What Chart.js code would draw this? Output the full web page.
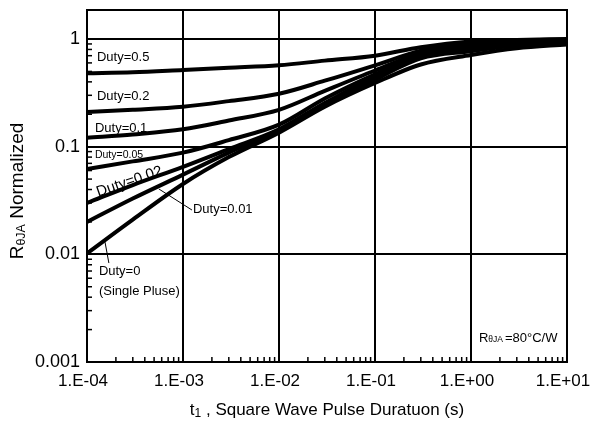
<!DOCTYPE html>
<html>
<head>
<meta charset="utf-8">
<script src="https://cdn.jsdelivr.net/npm/chart.js@4"></script>
<style>
html,body{margin:0;padding:0;background:#fff;}
#wrap{width:590px;height:423px;position:relative;}
</style>
</head>
<body>
<div id="wrap"><canvas id="c" width="590" height="423"></canvas></div>
<script>
// Pulse duration (s)
const pulseTimes = [1e-4, 3e-4, 1e-3, 3e-3, 1e-2, 3e-2, 1e-1, 3e-1, 1, 3, 10];
// Normalized thermal impedance for each duty cycle
const duty050 = [0.48, 0.49, 0.515, 0.54, 0.57, 0.63, 0.70, 0.84, 0.95, 0.98, 1.00];
const duty020 = [0.21, 0.22, 0.235, 0.265, 0.31, 0.41, 0.57, 0.78, 0.93, 0.97, 0.99];
const duty010 = [0.121, 0.13, 0.145, 0.175, 0.22, 0.33, 0.51, 0.74, 0.89, 0.95, 0.98];
const duty005 = [0.062, 0.073, 0.088, 0.115, 0.16, 0.28, 0.47, 0.71, 0.85, 0.93, 0.96];
const duty002 = [0.030, 0.044, 0.065, 0.095, 0.145, 0.255, 0.44, 0.68, 0.81, 0.90, 0.94];
const duty001 = [0.020, 0.033, 0.055, 0.088, 0.14, 0.245, 0.42, 0.66, 0.77, 0.87, 0.92];
const duty000 = [0.0102, 0.021, 0.045, 0.08, 0.135, 0.235, 0.39, 0.58, 0.71, 0.82, 0.89];
const seriesNames = ['Duty=0.5','Duty=0.2','Duty=0.1','Duty=0.05','Duty=0.02','Duty=0.01','Duty=0'];
const seriesValues = [duty050, duty020, duty010, duty005, duty002, duty001, duty000];
// Tick labels
const xTickValues = [1e-4, 1e-3, 1e-2, 1e-1, 1, 10];
const xTickLabels = ['1.E-04','1.E-03','1.E-02','1.E-01','1.E+00','1.E+01'];
const yTickValues = [0.001, 0.01, 0.1, 1];
const yTickLabels = ['0.001','0.01','0.1','1'];

const FONT = '"Liberation Sans", Arial, sans-serif';

const datasets = seriesNames.map((name, i) => ({
  label: name,
  data: pulseTimes.map((t, j) => ({x: t, y: seriesValues[i][j]})),
  borderColor: '#000',
  borderWidth: 4,
  pointRadius: 0,
  cubicInterpolationMode: 'monotone',
  fill: false
}));

const decorPlugin = {
  id: 'decor',
  beforeDatasetsDraw(chart) {
    const {ctx, chartArea: a, scales: {x, y}} = chart;
    ctx.save();
    ctx.strokeStyle = '#000';
    ctx.lineWidth = 1.5;
    for (let d = -4; d < 1; d++) {
      for (let k = 2; k <= 9; k++) {
        const px = x.getPixelForValue(k * Math.pow(10, d));
        ctx.beginPath(); ctx.moveTo(px, a.bottom); ctx.lineTo(px, a.bottom - 5); ctx.stroke();
      }
    }
    for (let d = -3; d <= 0; d++) {
      for (let k = 2; k <= 9; k++) {
        const v = k * Math.pow(10, d);
        if (v > y.max) continue;
        const py = y.getPixelForValue(v);
        ctx.beginPath(); ctx.moveTo(a.left, py); ctx.lineTo(a.left + 5, py); ctx.stroke();
      }
    }
    ctx.lineWidth = 2;
    ctx.strokeRect(a.left, a.top, a.right - a.left, a.bottom - a.top);
    ctx.restore();
  },
  afterDraw(chart) {
    const {ctx, chartArea: a, scales: {x, y}} = chart;
    const X = v => x.getPixelForValue(v);
    const Y = v => y.getPixelForValue(v);
    ctx.save();
    ctx.fillStyle = '#000';
    ctx.textBaseline = 'middle';
    ctx.textAlign = 'left';
    ctx.font = '13px ' + FONT;
    ctx.fillText('Duty=0.5', X(1.27e-4), Y(0.68));
    ctx.fillText('Duty=0.2', X(1.27e-4), Y(0.29));
    ctx.fillText('Duty=0.1', X(1.21e-4), Y(0.149));
    ctx.font = '10.5px ' + FONT;
    ctx.fillText('Duty=0.05', X(1.21e-4), Y(0.0837));
    ctx.save();
    ctx.font = '15px ' + FONT;
    ctx.translate(X(1.27e-4), Y(0.0372));
    ctx.rotate(-19 * Math.PI / 180);
    ctx.fillText('Duty=0.02', 0, 0);
    ctx.restore();
    ctx.font = '13px ' + FONT;
    ctx.fillText('Duty=0.01', X(1.27e-3), Y(0.0264));
    ctx.fillText('Duty=0', X(1.33e-4), Y(0.0070));
    ctx.fillText('(Single Pluse)', X(1.33e-4), Y(0.00457));
    ctx.strokeStyle = '#000';
    ctx.lineWidth = 1;
    ctx.beginPath();
    ctx.moveTo(X(5.6e-4), Y(0.0405)); ctx.lineTo(X(1.24e-3), Y(0.0258));
    ctx.moveTo(X(1.54e-4), Y(0.0130)); ctx.lineTo(X(1.69e-4), Y(0.0083));
    ctx.stroke();
    // R theta JA note
    let px = X(1.21), py = Y(0.00167);
    ctx.font = '13px ' + FONT;
    ctx.fillText('R', px, py);
    px += ctx.measureText('R').width;
    ctx.font = '8.5px ' + FONT;
    ctx.fillText('θJA', px, py + 2);
    px += ctx.measureText('θJA').width + 2;
    ctx.font = '13px ' + FONT;
    ctx.fillText('=80°C/W', px, py);
    // x axis title
    const t1 = 't', sub = '1', rest = ' , Square Wave Pulse Duratuon (s)';
    ctx.font = '17px ' + FONT; const w1 = ctx.measureText(t1).width;
    ctx.font = '12px ' + FONT; const w2 = ctx.measureText(sub).width;
    ctx.font = '17px ' + FONT; const w3 = ctx.measureText(rest).width;
    let sx = (a.left + a.right) / 2 - (w1 + w2 + w3) / 2;
    const ty = 410;
    ctx.fillText(t1, sx, ty); sx += w1;
    ctx.font = '12px ' + FONT; ctx.fillText(sub, sx, ty + 4); sx += w2;
    ctx.font = '17px ' + FONT; ctx.fillText(rest, sx, ty);
    // y axis title (rotated)
    ctx.save();
    ctx.translate(18, 191);
    ctx.rotate(-Math.PI / 2);
    ctx.font = '19px ' + FONT; const r1 = ctx.measureText('R').width;
    ctx.font = '12.5px ' + FONT; const r2 = ctx.measureText('θJA').width;
    ctx.font = '19px ' + FONT; const r3 = ctx.measureText(' Normalized').width;
    let rx = -(r1 + r2 + r3) / 2;
    ctx.fillText('R', rx, 0); rx += r1;
    ctx.font = '12.5px ' + FONT; ctx.fillText('θJA', rx, 4); rx += r2;
    ctx.font = '19px ' + FONT; ctx.fillText(' Normalized', rx, 0);
    ctx.restore();
    ctx.restore();
  }
};

new Chart(document.getElementById('c'), {
  type: 'line',
  data: {datasets},
  options: {
    responsive: false,
    animation: false,
    layout: {padding: {left: 0, right: 23, top: 10, bottom: 0}},
    plugins: {legend: {display: false}, tooltip: {enabled: false}},
    scales: {
      x: {
        type: 'logarithmic',
        min: 1e-4, max: 10,
        afterBuildTicks: s => { s.ticks = xTickValues.map(v => ({value: v})); },
        afterFit: s => { s.height = 61; s.paddingLeft = 0; s.paddingRight = 0; },
        grid: {color: '#000', lineWidth: 2, drawTicks: false},
        border: {display: true, color: '#000', width: 2},
        ticks: {
          autoSkip: false, maxRotation: 0, padding: 9, labelOffset: -4,
          color: '#000', font: {family: FONT, size: 17},
          callback: (v) => { const i = xTickValues.findIndex(t => Math.abs(Math.log10(t) - Math.log10(v)) < 1e-6); return i >= 0 ? xTickLabels[i] : ''; }
        }
      },
      y: {
        type: 'logarithmic',
        min: 0.001, max: 1.86,
        afterBuildTicks: s => { s.ticks = yTickValues.map(v => ({value: v})); },
        afterFit: s => { s.width = 87; s.paddingTop = 0; s.paddingBottom = 0; },
        grid: {color: '#000', lineWidth: 2, drawTicks: false},
        border: {display: true, color: '#000', width: 2},
        ticks: {
          autoSkip: false, padding: 7,
          color: '#000', font: {family: FONT, size: 18},
          callback: (v) => { const i = yTickValues.findIndex(t => Math.abs(Math.log10(t) - Math.log10(v)) < 1e-6); return i >= 0 ? yTickLabels[i] : ''; }
        }
      }
    }
  },
  plugins: [decorPlugin]
});
</script>
</body>
</html>
